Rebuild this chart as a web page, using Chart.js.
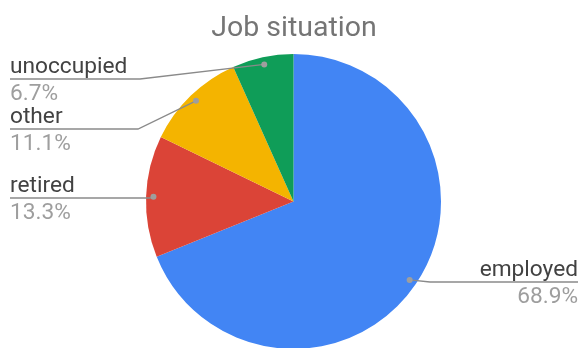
<!DOCTYPE html>
<html>
<head>
<meta charset="utf-8">
<script src="https://cdn.jsdelivr.net/npm/chart.js@4/dist/chart.umd.min.js"></script>
<style>
  html, body { margin: 0; padding: 0; background: #fff; overflow: hidden; }
  #wrap { position: relative; width: 581px; height: 360px; }
</style>
</head>
<body>
<div id="wrap"><canvas id="chart"></canvas></div>
<script>
const title = "Job situation";
const categories = ["employed", "retired", "other", "unoccupied"];
const shares = [68.9, 13.3, 11.1, 6.7];
const colors = ["#4285f4", "#db4437", "#f4b400", "#0f9d58"];

// where each callout sits: underline y, text side, and where the underline bends
const callouts = [
  { y: 282, side: "right", bendX: 430 },
  { y: 198, side: "left", bendX: 150 },
  { y: 129, side: "left", bendX: 138 },
  { y: 79, side: "left", bendX: 140 }
];

const calloutPlugin = {
  id: "callouts",
  afterDraw(chart) {
    const ctx = chart.ctx;
    const W = chart.width;
    ctx.save();
    ctx.fillStyle = "#757575";
    ctx.font = "28.5px Roboto";
    ctx.textAlign = "center";
    ctx.textBaseline = "alphabetic";
    ctx.fillText(title, 294, 36);

    const arcs = chart.getDatasetMeta(0).data;
    arcs.forEach((arc, i) => {
      const mid = (arc.startAngle + arc.endAngle) / 2;
      const r = arc.outerRadius * 0.95;
      const dx = arc.x + Math.cos(mid) * r;
      const dy = arc.y + Math.sin(mid) * r;
      const c = callouts[i];
      const x0 = c.side === "left" ? 10 : W - 3;

      ctx.strokeStyle = "#8a8a8a";
      ctx.lineWidth = 1.3;
      ctx.beginPath();
      ctx.moveTo(x0, c.y);
      if (c.side === "left") {
        ctx.lineTo(Math.min(c.bendX, dx), c.y);
      } else {
        ctx.lineTo(Math.max(c.bendX, dx), c.y);
      }
      ctx.lineTo(dx, dy);
      ctx.stroke();

      ctx.fillStyle = "#9e9e9e";
      ctx.beginPath();
      ctx.arc(dx, dy, 3, 0, Math.PI * 2);
      ctx.fill();

      ctx.textAlign = c.side === "left" ? "left" : "right";
      ctx.font = "22.7px Roboto";
      ctx.fillStyle = "#424242";
      ctx.fillText(categories[i], x0, c.y - 6);
      ctx.fillStyle = "#9e9e9e";
      ctx.fillText(shares[i].toFixed(1) + "%", x0, c.y + 21);
    });
    ctx.restore();
  }
};

new Chart(document.getElementById("chart"), {
  type: "pie",
  data: {
    labels: categories,
    datasets: [{
      data: shares,
      backgroundColor: colors,
      borderWidth: 0
    }]
  },
  options: {
    responsive: true,
    maintainAspectRatio: false,
    animation: false,
    layout: { padding: { left: 146, right: 140, top: 54, bottom: 11 } },
    plugins: {
      legend: { display: false },
      tooltip: { enabled: false },
      title: { display: false }
    }
  },
  plugins: [calloutPlugin]
});
</script>
</body>
</html>
